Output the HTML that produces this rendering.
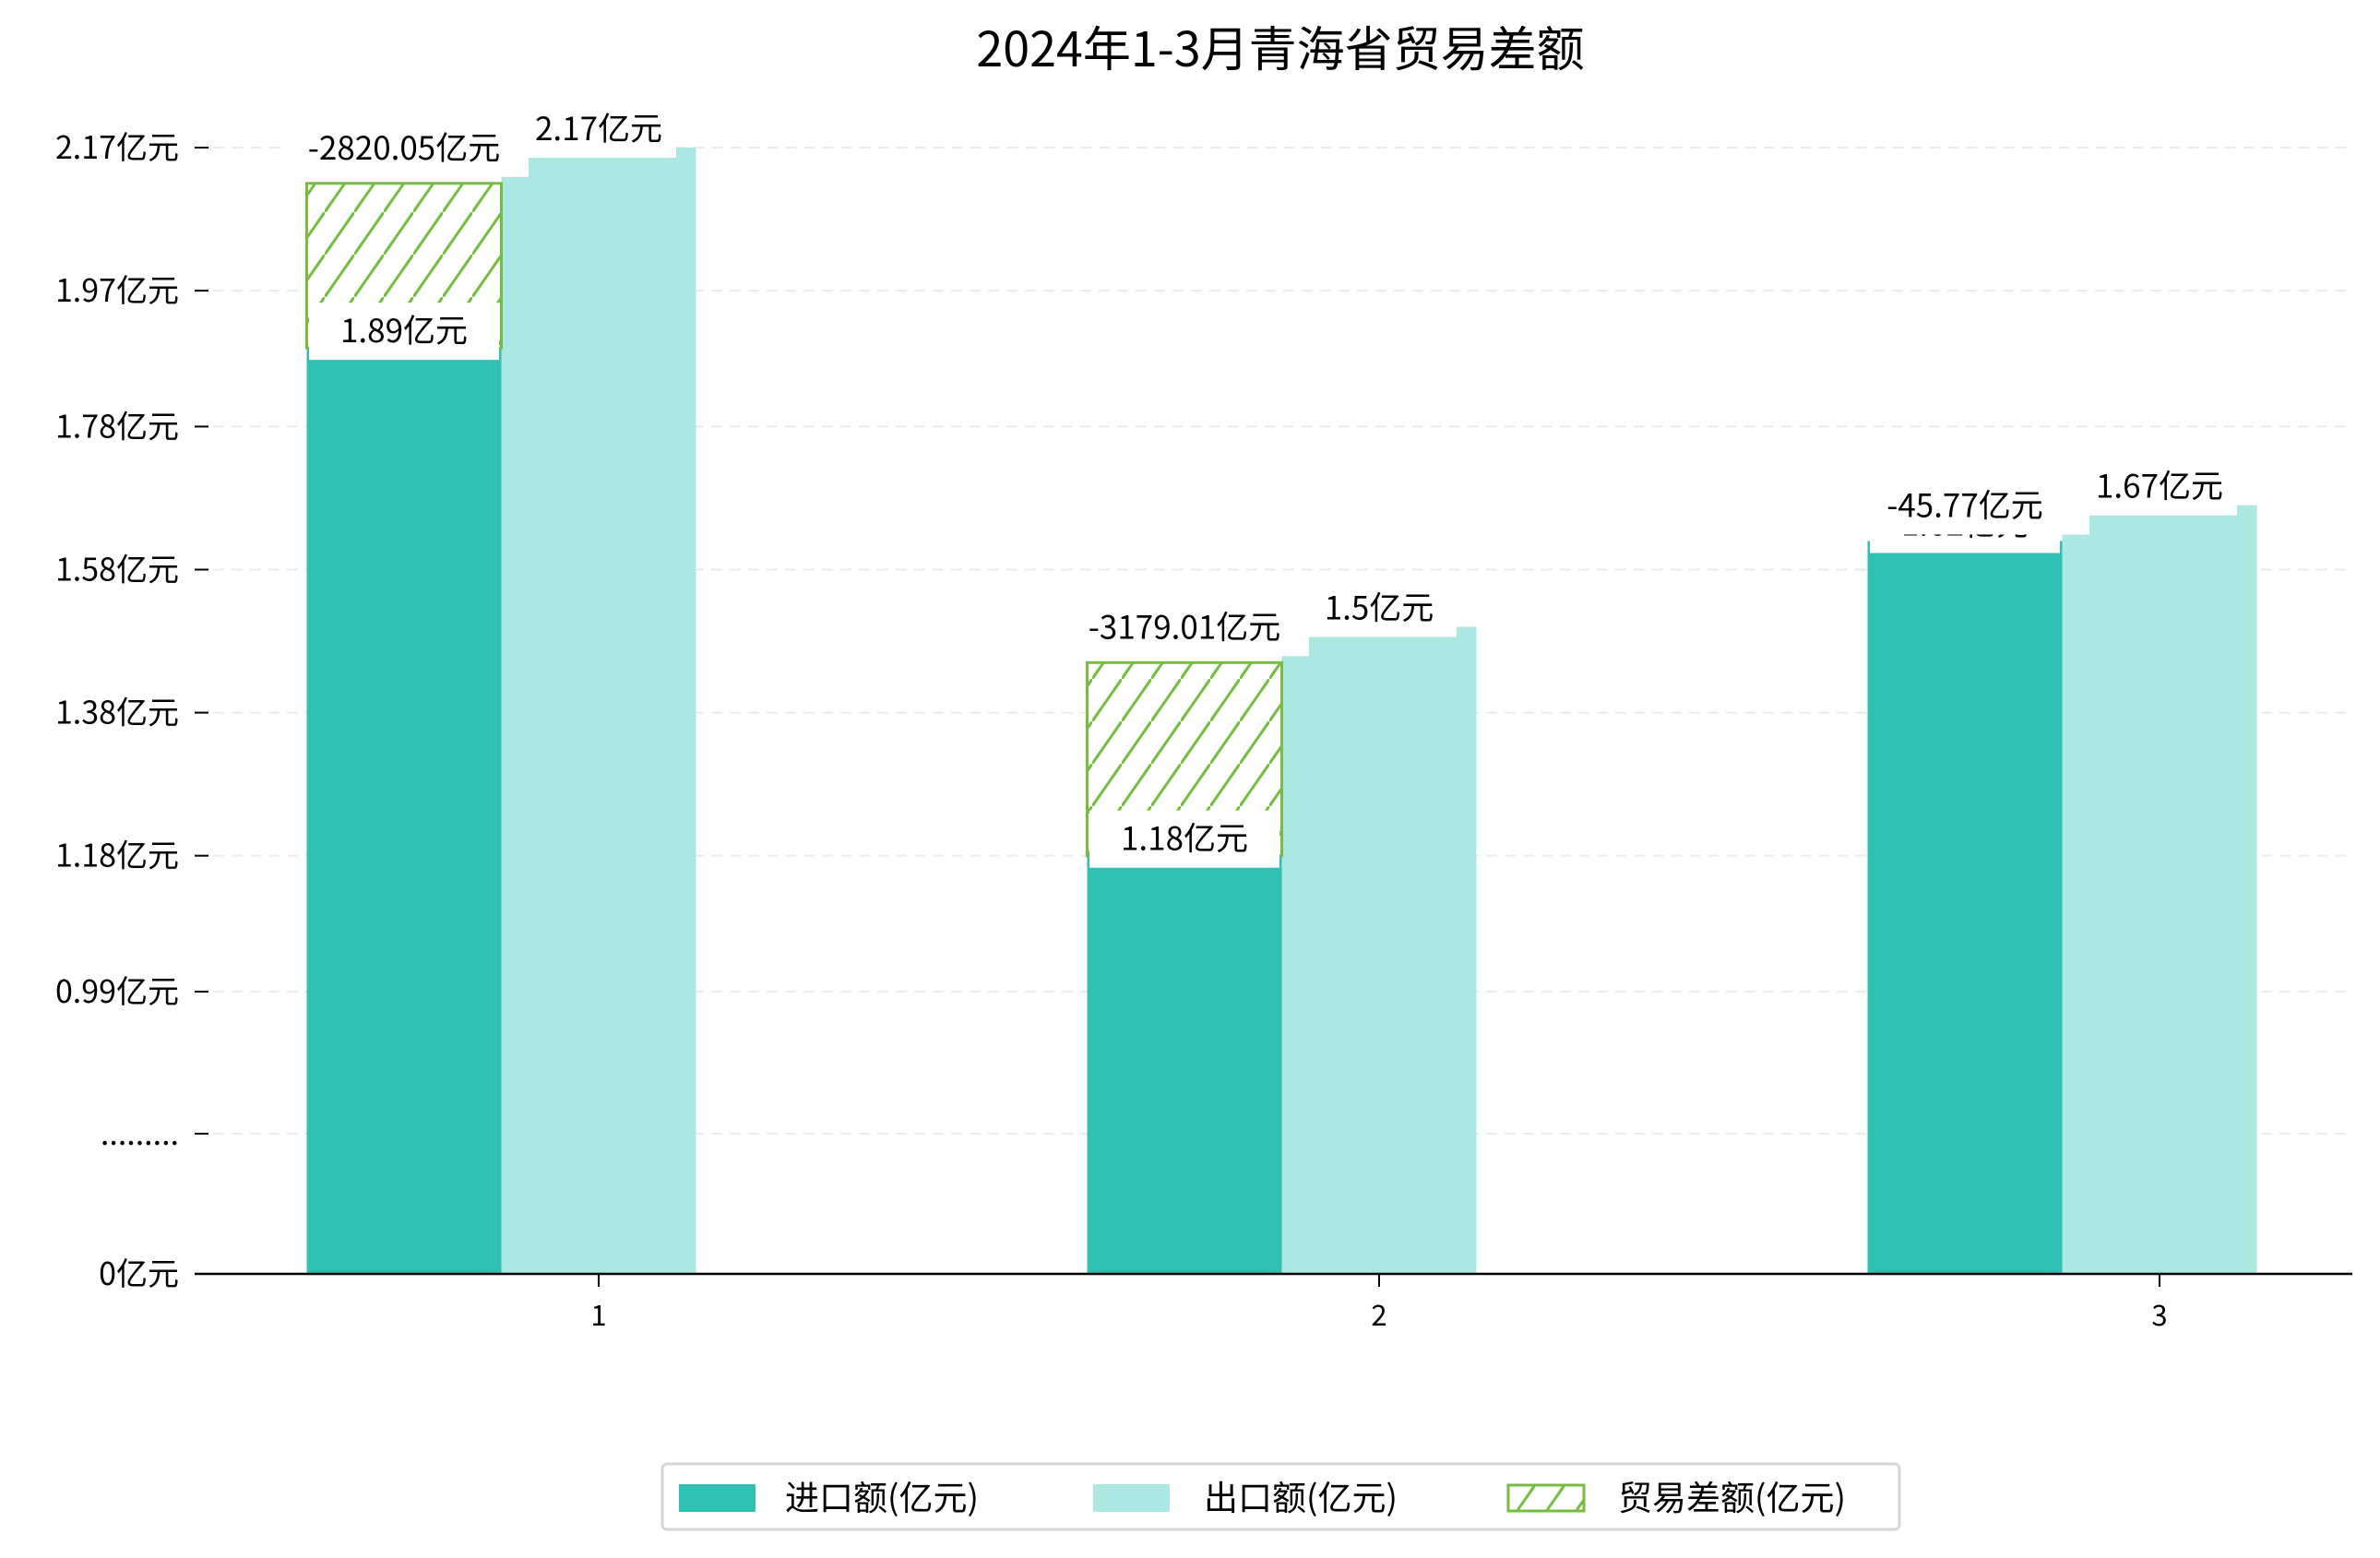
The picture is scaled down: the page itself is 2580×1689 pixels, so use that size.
<!DOCTYPE html>
<html><head><meta charset="utf-8">
<style>
html,body{margin:0;padding:0;background:#fff;}
svg{display:block;font-family:"WenQuanYi Zen Hei","Noto Sans CJK SC","Liberation Sans",sans-serif;}
</style></head>
<body>
<svg id="chart" width="2580" height="1689" viewBox="0 0 2580 1689" xmlns="http://www.w3.org/2000/svg">
<defs>
<pattern id="hatch" patternUnits="userSpaceOnUse" width="32" height="46">
<rect width="32" height="46" fill="#fff"/>
<line x1="-8" y1="57.5" x2="8" y2="34.5" stroke="#77bd41" stroke-width="3"/>
<line x1="0" y1="46" x2="32" y2="0" stroke="#77bd41" stroke-width="3"/>
<line x1="24" y1="11.5" x2="40" y2="-11.5" stroke="#77bd41" stroke-width="3"/>
</pattern>
</defs>
<text x="1388" y="72" text-anchor="middle" font-size="52" fill="#000">2024年1-3月青海省贸易差额</text>
<g id="grid"></g>
<g id="bars"></g>
<g id="labels"></g>
<g id="axes"></g>
<g>
<rect x="718" y="1587" width="1341" height="71" rx="5" fill="#fff" stroke="#d6d6d6" stroke-width="3"/>
<rect x="736" y="1609" width="83" height="30" fill="#31c0b4"/>
<text x="851" y="1637" font-size="37">进口额(亿元)</text>
<rect x="1185" y="1609" width="83" height="30" fill="#abe8e2"/>
<text x="1305" y="1637" font-size="37">出口额(亿元)</text>
<rect x="1635" y="1610" width="82" height="28" fill="url(#hatch)" stroke="#77bd41" stroke-width="3"/>
<text x="1754" y="1637" font-size="37">贸易差额(亿元)</text>
</g>
</svg>
<script>
const categories = ["1","2","3"];
const importVals = [1.89, 1.18, 1.62];
const exportVals = [2.17, 1.5, 1.67];
const balanceTop = [2.12, 1.45, 1.62];
const balanceLabels = ["-2820.05亿元","-3179.01亿元","-45.77亿元"];
const importLabels = ["1.89亿元","1.18亿元","1.62亿元"];
const exportLabels = ["2.17亿元","1.5亿元","1.67亿元"];
const tickVals = [0.99,1.18,1.38,1.58,1.78,1.97,2.17];
const tickLabels = ["0.99亿元","1.18亿元","1.38亿元","1.58亿元","1.78亿元","1.97亿元","2.17亿元"];

const NS="http://www.w3.org/2000/svg";
const baseY=1381, axL=211, axR=2550;
function y(v){ return 1075 - (v-0.99)*775.4; }
function xc(i){ return 649 + i*846; }
const bw=211;
function mk(tag,attrs,parent){const e=document.createElementNS(NS,tag);for(const k in attrs)e.setAttribute(k,attrs[k]);parent.appendChild(e);return e;}
const grid=document.getElementById('grid'),bars=document.getElementById('bars'),labels=document.getElementById('labels'),axes=document.getElementById('axes');

const allTicks=[{v:null,py:baseY,l:"0亿元"},{v:null,py:1229,l:"........."}];
tickVals.forEach((v,i)=>allTicks.push({v:v,py:y(v),l:tickLabels[i]}));
allTicks.forEach((t)=>{
  if(t.py!==baseY){
    const g=mk('line',{x1:axL,x2:axR,y1:t.py,y2:t.py,stroke:'#ebebeb','stroke-width':2,'stroke-dasharray':'12,8'},grid);
    
    
  }
  const tk=mk('line',{x1:211,x2:226,y1:t.py,y2:t.py,stroke:'#000','stroke-width':2},axes);
  
  
  const tl=mk('text',{x:194,y:t.py+12,'text-anchor':'end','font-size':34},axes);
  tl.textContent=t.l;
  
  
});
const ax=mk('line',{x1:axL,x2:axR,y1:baseY,y2:baseY,stroke:'#000','stroke-width':2.5},axes);



function labelBox(txt,cx,cy,w){
  const r=mk('rect',{x:cx-w/2,y:cy-31,width:w,height:62,fill:'#fff'},labels);
  
  
  const t=mk('text',{x:cx,y:cy+12,'text-anchor':'middle','font-size':35},labels);
  t.textContent=txt;
  
  
}

categories.forEach((c,i)=>{
  const x0=xc(i)-bw*1.5, x1=xc(i)-bw/2;
  const ib=mk('rect',{x:x0,y:y(importVals[i]),width:bw,height:baseY-y(importVals[i]),fill:'#31c0b4'},bars);
  
  
  const eb=mk('rect',{x:x1,y:y(exportVals[i]),width:bw,height:baseY-y(exportVals[i]),fill:'#abe8e2'},bars);
  
  
  const hh=y(importVals[i])-y(balanceTop[i]);
  if(hh>0){
    const hb=mk('rect',{x:x0,y:y(balanceTop[i]),width:bw,height:hh,fill:'url(#hatch)',stroke:'#77bd41','stroke-width':3},bars);
    
    
  }
  const tk=mk('line',{x1:xc(i),x2:xc(i),y1:baseY,y2:baseY+14,stroke:'#000','stroke-width':2},axes);
  
  
  const xl=mk('text',{x:xc(i),y:1437,'text-anchor':'middle','font-size':31},axes);
  xl.textContent=c;
  
  
});
categories.forEach((c,i)=>{
  labelBox(importLabels[i],xc(i)-bw,y(importVals[i])-18,206);
  labelBox(exportLabels[i],xc(i),y(exportVals[i])-20,168);
  labelBox(balanceLabels[i],xc(i)-bw,y(balanceTop[i])-38,270);
});
</script>
</body></html>
